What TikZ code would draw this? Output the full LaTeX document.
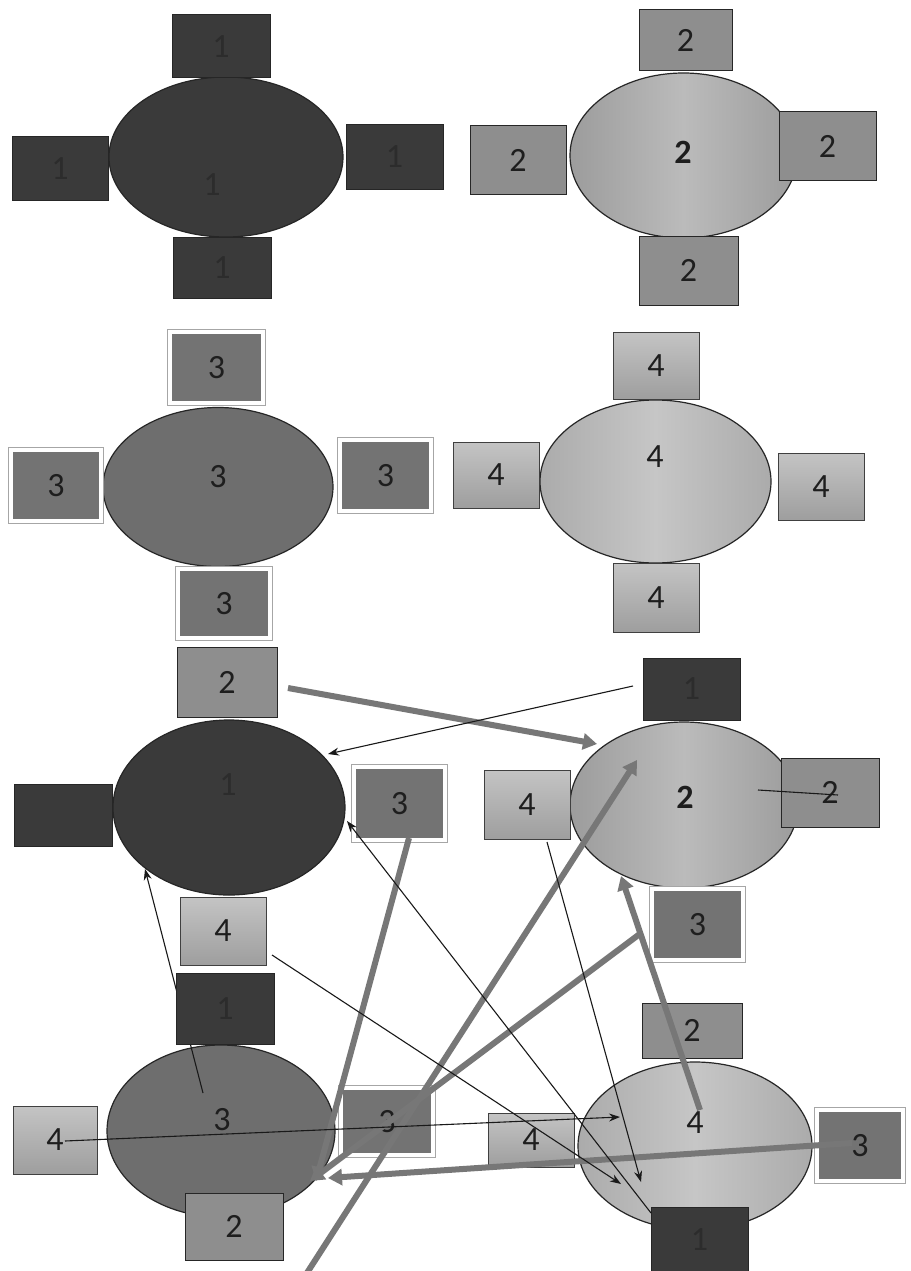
\documentclass[tikz,border=0pt]{standalone}
\usepackage{fontspec}
\setmainfont{Carlito}
\usetikzlibrary{shapes.geometric,shadows,arrows.meta}
\definecolor{cdark}{HTML}{3A3A3A}
\definecolor{ctxtdark}{HTML}{2C2C2C}
\definecolor{ctwo}{HTML}{8E8E8E}
\definecolor{ctwoL}{HTML}{9C9C9C}
\definecolor{ctwoM}{HTML}{BBBBBB}
\definecolor{cthree}{HTML}{737373}
\definecolor{cthreeE}{HTML}{6E6E6E}
\definecolor{cfourT}{HTML}{C4C4C4}
\definecolor{cfourB}{HTML}{9E9E9E}
\definecolor{cfourE}{HTML}{ABABAB}
\definecolor{cfourM}{HTML}{C6C6C6}
\definecolor{cline}{HTML}{777777}
\definecolor{ctext}{HTML}{1E1E1E}
\newcommand\digitfont{\fontsize{34}{40}\selectfont}
\begin{document}
\begin{tikzpicture}[x=1pt,y=-1pt,
  tbl/.style={ellipse, draw=black!85, line width=1.2pt, inner sep=0pt},
  tdark/.style={tbl, fill=cdark},
  ttwo/.style={tbl, left color=ctwoL, right color=ctwoL, middle color=ctwoM},
  tthree/.style={tbl, fill=cthreeE},
  tfour/.style={tbl, left color=cfourE, right color=cfourE, middle color=cfourM},
  seat/.style={rectangle, inner sep=0pt, font=\digitfont, text=ctext},
  sdark/.style={seat, fill=cdark, draw=black!85, line width=1pt, text=ctxtdark},
  stwo/.style={seat, fill=ctwo, draw=black!85, line width=1pt},
  sthree/.style={seat, fill=cthree, draw=white, line width=4pt,
     preaction={draw=black!35, line width=6pt},
     drop shadow={shadow xshift=1.5pt, shadow yshift=-1.5pt, opacity=0.3}},
  sfour/.style={seat, top color=cfourT, bottom color=cfourB, draw=black!75, line width=0.8pt},
  lbl/.style={font=\digitfont, text=ctext, inner sep=0pt},
  thinarrow/.style={draw=black!90, line width=1.1pt, -{Stealth[length=11pt,width=8pt]}},
  thinline/.style={draw=black!90, line width=1.1pt},
  thickarrow/.style={draw=cline, line width=6pt, -{Triangle[length=14pt,width=16pt]}}
]
\useasboundingbox (0,0) rectangle (910,1271);
\fill[white] (0,0) rectangle (910,1271);

% ---------- group 1 ----------
\node[tdark, minimum width=234pt, minimum height=160pt] (g1e) at (226,157) {};
\node[sdark, minimum width=98pt, minimum height=63pt] (g1t) at (221,46.5) {1};
\node[sdark, minimum width=96pt, minimum height=63pt] (g1l) at (60,168.5) {1};
\node[sdark, minimum width=97pt, minimum height=64pt] (g1r) at (394.5,157) {1};
\node[sdark, minimum width=98pt, minimum height=61pt] (g1b) at (222,267.5) {1};
\node[lbl, text=ctxtdark] (g1c) at (212,185) {1};

% ---------- group 2 ----------
\node[ttwo, minimum width=227pt, minimum height=165pt] (g2e) at (683.5,155.5) {};
\node[stwo, minimum width=93pt, minimum height=61pt] (g2t) at (685.5,40.5) {2};
\node[stwo, minimum width=96pt, minimum height=68pt] (g2l) at (518,160) {2};
\node[stwo, minimum width=97pt, minimum height=68pt] (g2r) at (827.5,146) {2};
\node[stwo, minimum width=99pt, minimum height=69pt] (g2b) at (688.5,270.5) {2};
\node[lbl, font=\digitfont\bfseries] (g2c) at (683,152) {2};

% ---------- group 3 ----------
\node[tthree, minimum width=230pt, minimum height=159pt] (g3e) at (218,487) {};
\node[sthree, minimum width=93pt, minimum height=71pt] (g3t) at (216.5,367.5) {3};
\node[sthree, minimum width=90pt, minimum height=71pt] (g3l) at (56,485.5) {3};
\node[sthree, minimum width=91pt, minimum height=71pt] (g3r) at (385.5,475.5) {3};
\node[sthree, minimum width=92pt, minimum height=69pt] (g3b) at (224,603.5) {3};
\node[lbl] (g3c) at (218,477) {3};

% ---------- group 4 ----------
\node[tfour, minimum width=231pt, minimum height=163pt] (g4e) at (655.5,481.5) {};
\node[sfour, minimum width=86pt, minimum height=67pt] (g4t) at (656,365.5) {4};
\node[sfour, minimum width=86pt, minimum height=66pt] (g4l) at (496,475) {4};
\node[sfour, minimum width=86pt, minimum height=67pt] (g4r) at (821,486.5) {4};
\node[sfour, minimum width=86pt, minimum height=69pt] (g4b) at (656,597.5) {4};
\node[lbl] (g4c) at (655,457) {4};

% ---------- group 5 ----------
\node[tdark, minimum width=232pt, minimum height=175pt] (g5e) at (229,807.5) {};
\node[lbl, text=ctxtdark] (g5c) at (228,785) {1};
\node[stwo, minimum width=100pt, minimum height=70pt] (g5t) at (227,682) {2};
\node[sdark, minimum width=98pt, minimum height=62pt] (g5l) at (63,815) {};
\node[sthree, minimum width=91pt, minimum height=73pt] (g5r) at (399.5,803.5) {3};
\node[sfour, minimum width=86pt, minimum height=68pt] (g5b) at (223,931) {4};

% ---------- group 6 ----------
\node[ttwo, minimum width=228pt, minimum height=166pt] (g6e) at (684,805) {};
\node[lbl, font=\digitfont\bfseries] (g6c) at (685,797) {2};
\node[sdark, minimum width=97pt, minimum height=62pt] (g6t) at (691.5,689) {1};
\node[sfour, minimum width=86pt, minimum height=69pt] (g6l) at (527,804.5) {4};
\node[stwo, minimum width=98pt, minimum height=69pt] (g6r) at (830,792.5) {2};
\node[sthree, minimum width=91pt, minimum height=71pt] (g6b) at (697.5,924.5) {3};

% ---------- group 7 ----------
\node[tthree, minimum width=228pt, minimum height=172pt] (g7e) at (221,1131) {};
\node[lbl] (g7c) at (222,1120) {3};
\coordinate (hS) at (203,1093);
\coordinate (hE) at (145,869);
\draw[thinarrow] (hS) -- (hE);
\node[sdark, minimum width=98pt, minimum height=71pt] (g7t) at (225,1008.5) {1};
\node[sfour, minimum width=84pt, minimum height=68pt] (g7l) at (55,1140) {4};
\node[sthree, minimum width=92pt, minimum height=67pt] (g7r) at (387,1121.5) {3};
\node[stwo, minimum width=98pt, minimum height=67pt] (g7b) at (234,1226.5) {2};

% ---------- group 8 ----------
\node[tfour, minimum width=234pt, minimum height=168pt] (g8e) at (695,1146) {};
\node[lbl] (g8c) at (695,1123) {4};
\node[stwo, minimum width=100pt, minimum height=55pt] (g8t) at (692,1030.5) {2};
\node[sfour, minimum width=86pt, minimum height=54pt] (g8l) at (531,1140) {4};
\node[sthree, minimum width=86pt, minimum height=71pt] (g8r) at (860,1145.5) {3};
\node[sdark, minimum width=97pt, minimum height=66pt] (g8b) at (699.5,1240) {1};

% ---------- connector end points ----------
\coordinate (aS) at (288,688);   \coordinate (aE) at (597,744);
\coordinate (bS) at (633,686);   \coordinate (bE) at (328,754);
\coordinate (cS) at (758,790);   \coordinate (cE) at (838,795);
\coordinate (eS) at (651,1213);  \coordinate (eE) at (347,821);
\coordinate (fS) at (547,842);   \coordinate (fE) at (641,1182);
\coordinate (gS) at (272,955);   \coordinate (gE) at (621,1184);
\coordinate (iS) at (65,1141);   \coordinate (iE) at (620,1117);
\coordinate (d1S) at (641,933);  \coordinate (d1E) at (310,1181);
\coordinate (d2S) at (409,838);  \coordinate (d2E) at (316,1181);
\coordinate (d3S) at (305,1276); \coordinate (d3E) at (637,760);
\coordinate (d4S) at (700,1110); \coordinate (d4E) at (621,876);
\coordinate (d5S) at (852,1143); \coordinate (d5E) at (328,1178);

% ---------- thick connectors ----------
\draw[thickarrow] (aS) -- (aE);
\draw[thickarrow] (d2S) -- (d2E);
\draw[thickarrow] (d1S) -- (d1E);
\draw[thickarrow] (d3S) -- (d3E);
\draw[thickarrow] (d4S) -- (d4E);
\draw[thickarrow] (d5S) -- (d5E);

% ---------- thin connectors ----------
\draw[thinarrow] (bS) -- (bE);
\draw[thinline] (cS) -- (cE);
\draw[thinarrow] (eS) -- (eE);
\draw[thinarrow] (fS) -- (fE);
\draw[thinarrow] (gS) -- (gE);
\draw[thinarrow] (iS) -- (iE);
\end{tikzpicture}
\end{document}
